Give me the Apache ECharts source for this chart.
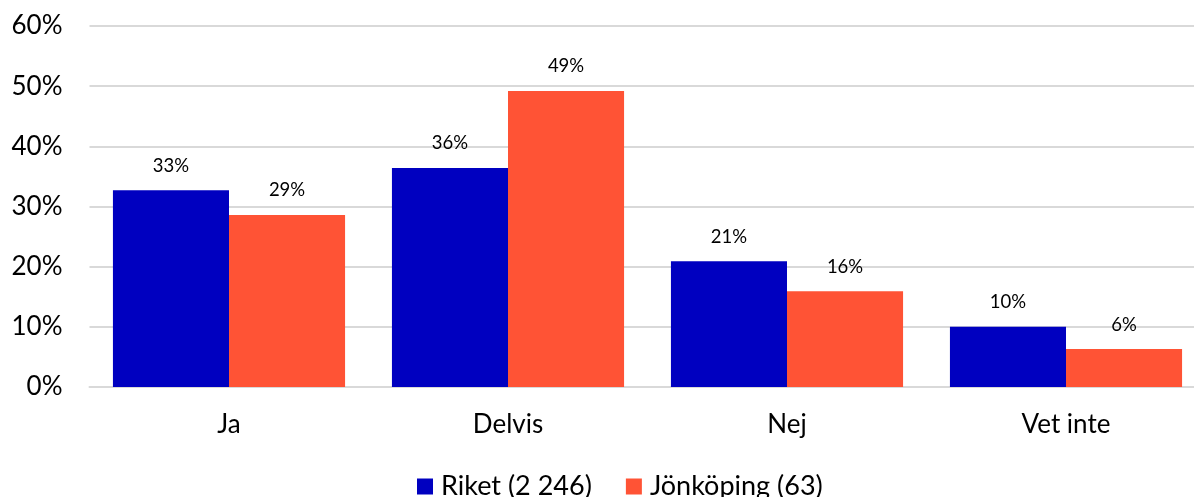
<!DOCTYPE html>
<html>
<head>
<meta charset="utf-8">
<script src="https://cdn.jsdelivr.net/npm/echarts@6/dist/echarts.min.js"></script>
<style>
html,body{margin:0;padding:0;background:#fff;overflow:hidden;}
#c{width:1194px;height:497px;}
</style>
</head>
<body>
<div id="c"></div>
<script>
const categories = ['Ja', 'Delvis', 'Nej', 'Vet inte'];
const seriesNames = ['Riket (2 246)', 'Jönköping (63)'];
const riket = [32.7, 36.4, 20.9, 10.0];
const jonkoping = [28.6, 49.2, 15.9, 6.3];
const yTicks = [0, 10, 20, 30, 40, 50, 60];

const FONT = 'Lato, "Noto Sans", sans-serif';
const chart = echarts.init(document.getElementById('c'), null, {renderer: 'canvas'});

function barSeries(name, data, color) {
  return {
    name: name,
    type: 'bar',
    data: data,
    barGap: '0%',
    barCategoryGap: '16.8%',
    itemStyle: {color: color},
    label: {
      show: true,
      position: 'top',
      distance: 15,
      color: '#000',
      fontFamily: FONT,
      fontSize: 18.5,
      formatter: p => Math.round(p.value) + '%'
    }
  };
}

chart.setOption({
  animation: false,
  backgroundColor: '#fff',
  grid: {left: 89.5, width: 1116, top: 26, bottom: 110, containLabel: false, outerBoundsMode: 'none'},
  legend: {
    top: 468,
    left: 412,
    itemWidth: 16,
    itemHeight: 16,
    itemGap: 34,
    icon: 'rect',
    textStyle: {fontFamily: FONT, fontSize: 27, color: '#000', padding: [0, 0, 0, 3]},
    data: seriesNames
  },
  xAxis: {
    type: 'category',
    data: categories,
    axisLine: {show: true, lineStyle: {color: '#d9d9d9', width: 2}},
    axisTick: {show: false},
    axisLabel: {fontFamily: FONT, fontSize: 26, color: '#000', margin: 25}
  },
  yAxis: {
    type: 'value',
    min: yTicks[0],
    max: yTicks[yTicks.length - 1],
    interval: 10,
    axisLine: {show: false},
    axisTick: {show: false},
    splitLine: {lineStyle: {color: '#d9d9d9', width: 2}},
    axisLabel: {fontFamily: FONT, fontSize: 26, color: '#000', margin: 27, formatter: '{value}%'}
  },
  series: [
    barSeries(seriesNames[0], riket, '#0000C0'),
    barSeries(seriesNames[1], jonkoping, '#FF5335')
  ]
});
</script>
</body>
</html>
